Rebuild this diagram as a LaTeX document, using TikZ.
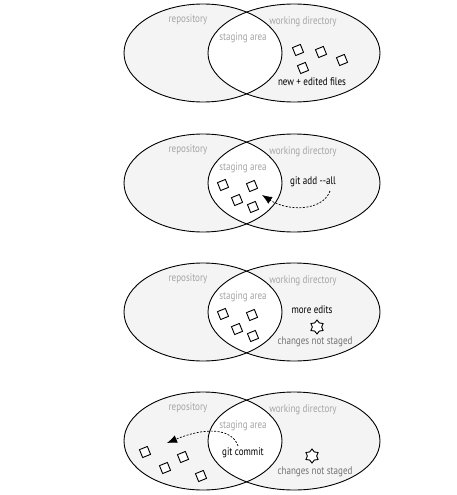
\documentclass[tikz,border=0pt]{standalone}
\usepackage{fontspec}
\setmainfont{PT Sans}[FakeStretch=0.82]
\usepackage{tikz}
\usetikzlibrary{positioning,arrows.meta,shapes.geometric,calc}
\definecolor{vennfill}{RGB}{244,244,244}
\definecolor{labelgray}{RGB}{165,165,165}
\definecolor{notegray}{RGB}{115,115,115}
\tikzset{
  rim/.style     = {draw=black, line width=0.9pt},
  lbl/.style     = {font=\fontsize{11}{13}\selectfont, text=labelgray, inner sep=1pt},
  cmd/.style     = {font=\fontsize{11}{13}\selectfont, text=black, inner sep=1pt},
  note/.style    = {font=\fontsize{11}{13}\selectfont, text=notegray, inner sep=1pt},
  filebox/.style = {draw, line width=0.9pt, fill=white, minimum size=8.5pt, inner sep=0pt, rotate=22},
  edit/.style    = {draw, line width=0.9pt, fill=white, star, star points=6, star point ratio=1.5, minimum size=14pt, inner sep=0pt},
  flow/.style    = {-{Latex[length=10pt,width=8pt]}, line width=0.7pt, dash pattern=on 2pt off 1.5pt},
}
\begin{document}
\begin{tikzpicture}[x=1pt,y=-1pt]
  \useasboundingbox (0,0) rectangle (457,495);

  % the four repo / working dir pairs
  \foreach \i/\y in {1/53,2/183,3/312,4/441} {
    \fill[vennfill] (203,\y) ellipse [x radius=79pt, y radius=49pt];
    \fill[vennfill] (294,\y) ellipse [x radius=86pt, y radius=49pt];
    \begin{scope}
      \clip (203,\y) ellipse [x radius=79pt, y radius=49pt];
      \fill[white] (294,\y) ellipse [x radius=86pt, y radius=49pt];
    \end{scope}
    \draw[rim] (203,\y) ellipse [x radius=79pt, y radius=49pt];
    \draw[rim] (294,\y) ellipse [x radius=86pt, y radius=49pt];
    \node[lbl] (repo\i) at (188,\y-33) {repository};
    \node[lbl] (work\i) at (303,\y-31) {working directory};
    \node[lbl] (stage\i) at (243,\y-15) {staging area};
  }

  % 1: new files
  \node[filebox] (fa) at (298,50) {};
  \node[filebox] (fb) at (321,52) {};
  \node[filebox] (fc) at (342,60) {};
  \node[filebox] (fd) at (303,68) {};
  \node[cmd] (newfiles) at (312,82) {new + edited files};

  % 2 and 3: staged files
  \foreach \i/\y in {2/183,3/312} {
    \node[filebox] (sa\i) at (223,\y+2) {};
    \node[filebox] (sb\i) at (252,\y+3) {};
    \node[filebox] (sc\i) at (237,\y+17) {};
    \node[filebox] (sd\i) at (253,\y+24) {};
  }
  \node[cmd] (add) at (313,182) {git add -{}-all};
  \coordinate (addfrom) at (330,191);
  \coordinate (addto) at (262,195);
  \draw[flow] (addfrom) .. controls (322,212) and (287,211) .. (addto);

  \node[cmd] (moreedits) at (312,310) {more edits};
  \node[edit] (star3) at (317,327) {};
  \node[note] (unstaged3) at (315,342) {changes not staged};

  % 4: committed
  \node[filebox] (ca) at (145,452) {};
  \node[filebox] (cb) at (165,468) {};
  \node[filebox] (cc) at (183,457) {};
  \node[filebox] (cd) at (201,476) {};
  \node[cmd] (commit) at (243,453) {git commit};
  \coordinate (commitfrom) at (238,446);
  \coordinate (committo) at (167,443);
  \draw[flow] (commitfrom) .. controls (232,428) and (205,427) .. (committo);
  \node[edit] (star4) at (312,456) {};
  \node[note] (unstaged4) at (315,472) {changes not staged};
\end{tikzpicture}
\end{document}
